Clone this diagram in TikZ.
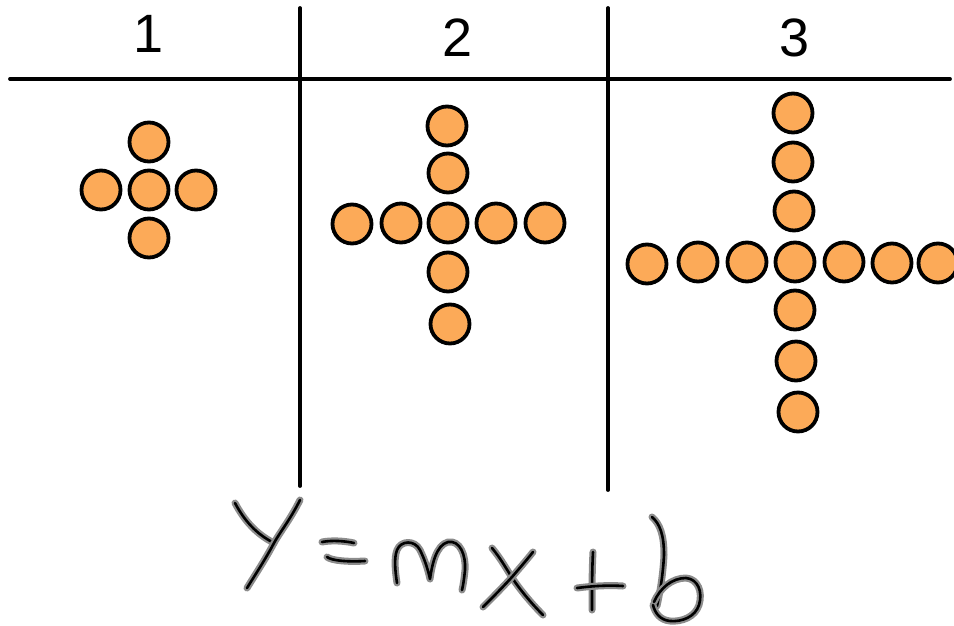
\documentclass[tikz,border=0pt]{standalone}
\usepackage{fontspec}
\setmainfont{Liberation Sans}
\definecolor{dotfill}{RGB}{252,170,88}
\begin{document}
\begin{tikzpicture}[x=1pt,y=-1pt,
  dot/.style={circle,draw=black,line width=3.8pt,fill=dotfill,minimum size=39pt,inner sep=0pt},
  rule/.style={line width=3.8pt,line cap=round},
  num/.style={font=\fontsize{54}{54}\selectfont,inner sep=0pt,anchor=base},
  hand/.style={line width=2.6pt,line cap=round,line join=round,black,
    preaction={draw=black!45,line width=7pt,line cap=round,line join=round}}]
\useasboundingbox[fill=white] (0,0) rectangle (954,625);
% table rules
\coordinate (hl) at (10,79);
\coordinate (hr) at (950,79);
\coordinate (v1t) at (300,8);
\coordinate (v1b) at (300,486);
\coordinate (v2t) at (608,8);
\coordinate (v2b) at (608,490);
\draw[rule] (hl) -- (hr);
\draw[rule] (v1t) -- (v1b);
\draw[rule] (v2t) -- (v2b);
% headings
\node[num] (n1) at (149,52) {1};
\node[num] (n2) at (458,56) {2};
\node[num] (n3) at (795,56) {3};
% pattern 1
\node[dot] (a0) at (149,190) {};
\node[dot] (a1) at (149,142) {};
\node[dot] (a2) at (149,238) {};
\node[dot] (a3) at (101,190) {};
\node[dot] (a4) at (196,190) {};
% pattern 2
\node[dot] (b0) at (448,223) {};
\node[dot] (b1) at (448,173) {};
\node[dot] (b2) at (447,126) {};
\node[dot] (b3) at (448,272) {};
\node[dot] (b4) at (450,324) {};
\node[dot] (b5) at (352,224) {};
\node[dot] (b6) at (401,223) {};
\node[dot] (b7) at (496,223) {};
\node[dot] (b8) at (545,223) {};
% pattern 3
\node[dot] (c0) at (795,262) {};
\node[dot] (c1) at (794,211) {};
\node[dot] (c2) at (793,162) {};
\node[dot] (c3) at (793,113) {};
\node[dot] (c4) at (795,310) {};
\node[dot] (c5) at (796,361) {};
\node[dot] (c6) at (798,412) {};
\node[dot] (c7) at (747,262) {};
\node[dot] (c8) at (698,262) {};
\node[dot] (c9) at (647,264) {};
\node[dot] (c10) at (844,262) {};
\node[dot] (c11) at (892,263) {};
\node[dot] (c12) at (938,263) {};
% handwritten Y = mx + b
% Y
\draw[hand] (235,503) .. controls (244,520) and (256,534) .. (274,543);
\draw[hand] (300,500) .. controls (290,520) and (280,532) .. (274,543) .. controls (265,560) and (255,575) .. (247,588);
% =
\draw[hand] (322,542) .. controls (332,540) and (345,541) .. (354,543);
\draw[hand] (327,557) .. controls (332,561) and (350,562) .. (365,561);
% m
\draw[hand] (397,583) .. controls (395,570) and (394,558) .. (397,550)
  .. controls (401,540) and (415,540) .. (420,550)
  .. controls (425,560) and (428,570) .. (430,579)
  .. controls (432,565) and (436,545) .. (448,542)
  .. controls (460,540) and (466,555) .. (465,570)
  .. controls (464,580) and (463,586) .. (462,590);
% x
\draw[hand] (492,548) .. controls (502,560) and (508,572) .. (515,582) .. controls (525,596) and (535,607) .. (543,615);
\draw[hand] (533,552) .. controls (525,562) and (518,570) .. (512,577) .. controls (502,588) and (492,598) .. (483,607);
% +
\draw[hand] (593,552) .. controls (592,570) and (592,592) .. (592,610);
\draw[hand] (577,588) .. controls (592,586) and (608,585) .. (623,586);
% b
\draw[hand] (652,517) .. controls (660,524) and (664,535) .. (664,555) .. controls (663,575) and (660,592) .. (657,606);
\draw[hand] (654,602) .. controls (660,588) and (672,578) .. (686,578)
  .. controls (698,579) and (703,592) .. (699,605)
  .. controls (695,617) and (682,622) .. (670,621)
  .. controls (660,620) and (655,613) .. (653,605);
\end{tikzpicture}
\end{document}
